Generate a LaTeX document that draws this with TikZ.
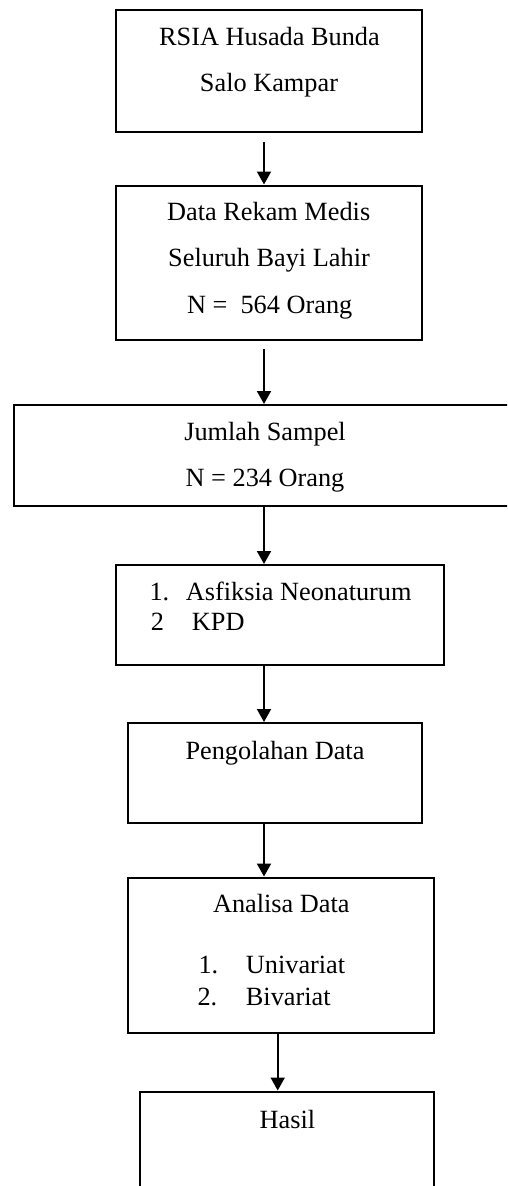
\documentclass[tikz,border=0pt]{standalone}
\usepackage{fontspec}
\setmainfont{Liberation Serif}
\usetikzlibrary{arrows.meta}
\begin{document}
\begin{tikzpicture}[x=1pt,y=-1pt,
  box/.style={draw,line width=2pt,rectangle,inner sep=0pt},
  txt/.style={anchor=base,inner sep=0pt,font=\fontsize{26.3}{30}\selectfont},
  txtl/.style={txt,anchor=base west},
  arr/.style={line width=2pt,-{Triangle[length=13pt,width=14pt]}}]
\useasboundingbox (0,0) rectangle (507,1186);
\clip (0,0) rectangle (507,1186);
% boxes
\node[box,minimum width=306.5pt,minimum height=122pt] (b1) at (268.75,70.5) {};
\node[box,minimum width=306.5pt,minimum height=154pt] (b2) at (268.75,262.5) {};
\node[box,minimum width=506.5pt,minimum height=101pt] (b3) at (266.75,455.5) {};
\node[box,minimum width=328.5pt,minimum height=100pt] (b4) at (279.75,615) {};
\node[box,minimum width=294pt,minimum height=100pt] (b5) at (275,773) {};
\node[box,minimum width=306pt,minimum height=155.5pt] (b6) at (281,955.25) {};
\node[box,minimum width=294.5pt,minimum height=118.5pt] (b7) at (286.75,1150.75) {};
% texts
\node[txt] (t1a) at (269.5,45) {RSIA Husada Bunda};
\node[txt] (t1b) at (269,91.7) {Salo Kampar};
\node[txt] (t2a) at (268.7,220) {Data Rekam Medis};
\node[txt] (t2b) at (269,266.7) {Seluruh Bayi Lahir};
\node[txt] (t2c) at (269.7,313.3) {N =\ \ 564 Orang};
\node[txt] (t3a) at (265,440) {Jumlah Sampel};
\node[txt] (t3b) at (265,486) {N = 234 Orang};
\node[txtl] (t4a) at (149.3,600) {1.};
\node[txtl] (t4b) at (185.7,600) {Asfiksia Neonaturum};
\node[txtl] (t4c) at (150.7,630.7) {2};
\node[txtl] (t4d) at (191.7,630.7) {KPD};
\node[txt] (t5) at (275,759.3) {Pengolahan Data};
\node[txt] (t6a) at (281.3,912.7) {Analisa Data};
\node[txtl] (t6b) at (198.3,973.3) {1.};
\node[txtl] (t6c) at (245.7,973.3) {Univariat};
\node[txtl] (t6d) at (197.3,1005) {2.};
\node[txtl] (t6e) at (245.7,1005) {Bivariat};
\node[txt] (t7) at (287.5,1128) {Hasil};
% arrows
\coordinate (ax) at (264,0);
\coordinate (bx) at (277.7,0);
\draw[arr,shorten <=9.2pt] (b1.south -| ax) -- (b2.north -| ax);
\draw[arr,shorten <=8.8pt] (b2.south -| ax) -- (b3.north -| ax);
\draw[arr] (b3.south -| ax) -- (b4.north -| ax);
\draw[arr] (b4.south -| ax) -- (b5.north -| ax);
\draw[arr] (b5.south -| ax) -- (b6.north -| ax);
\draw[arr] (b6.south -| bx) -- (b7.north -| bx);
\end{tikzpicture}
\end{document}
